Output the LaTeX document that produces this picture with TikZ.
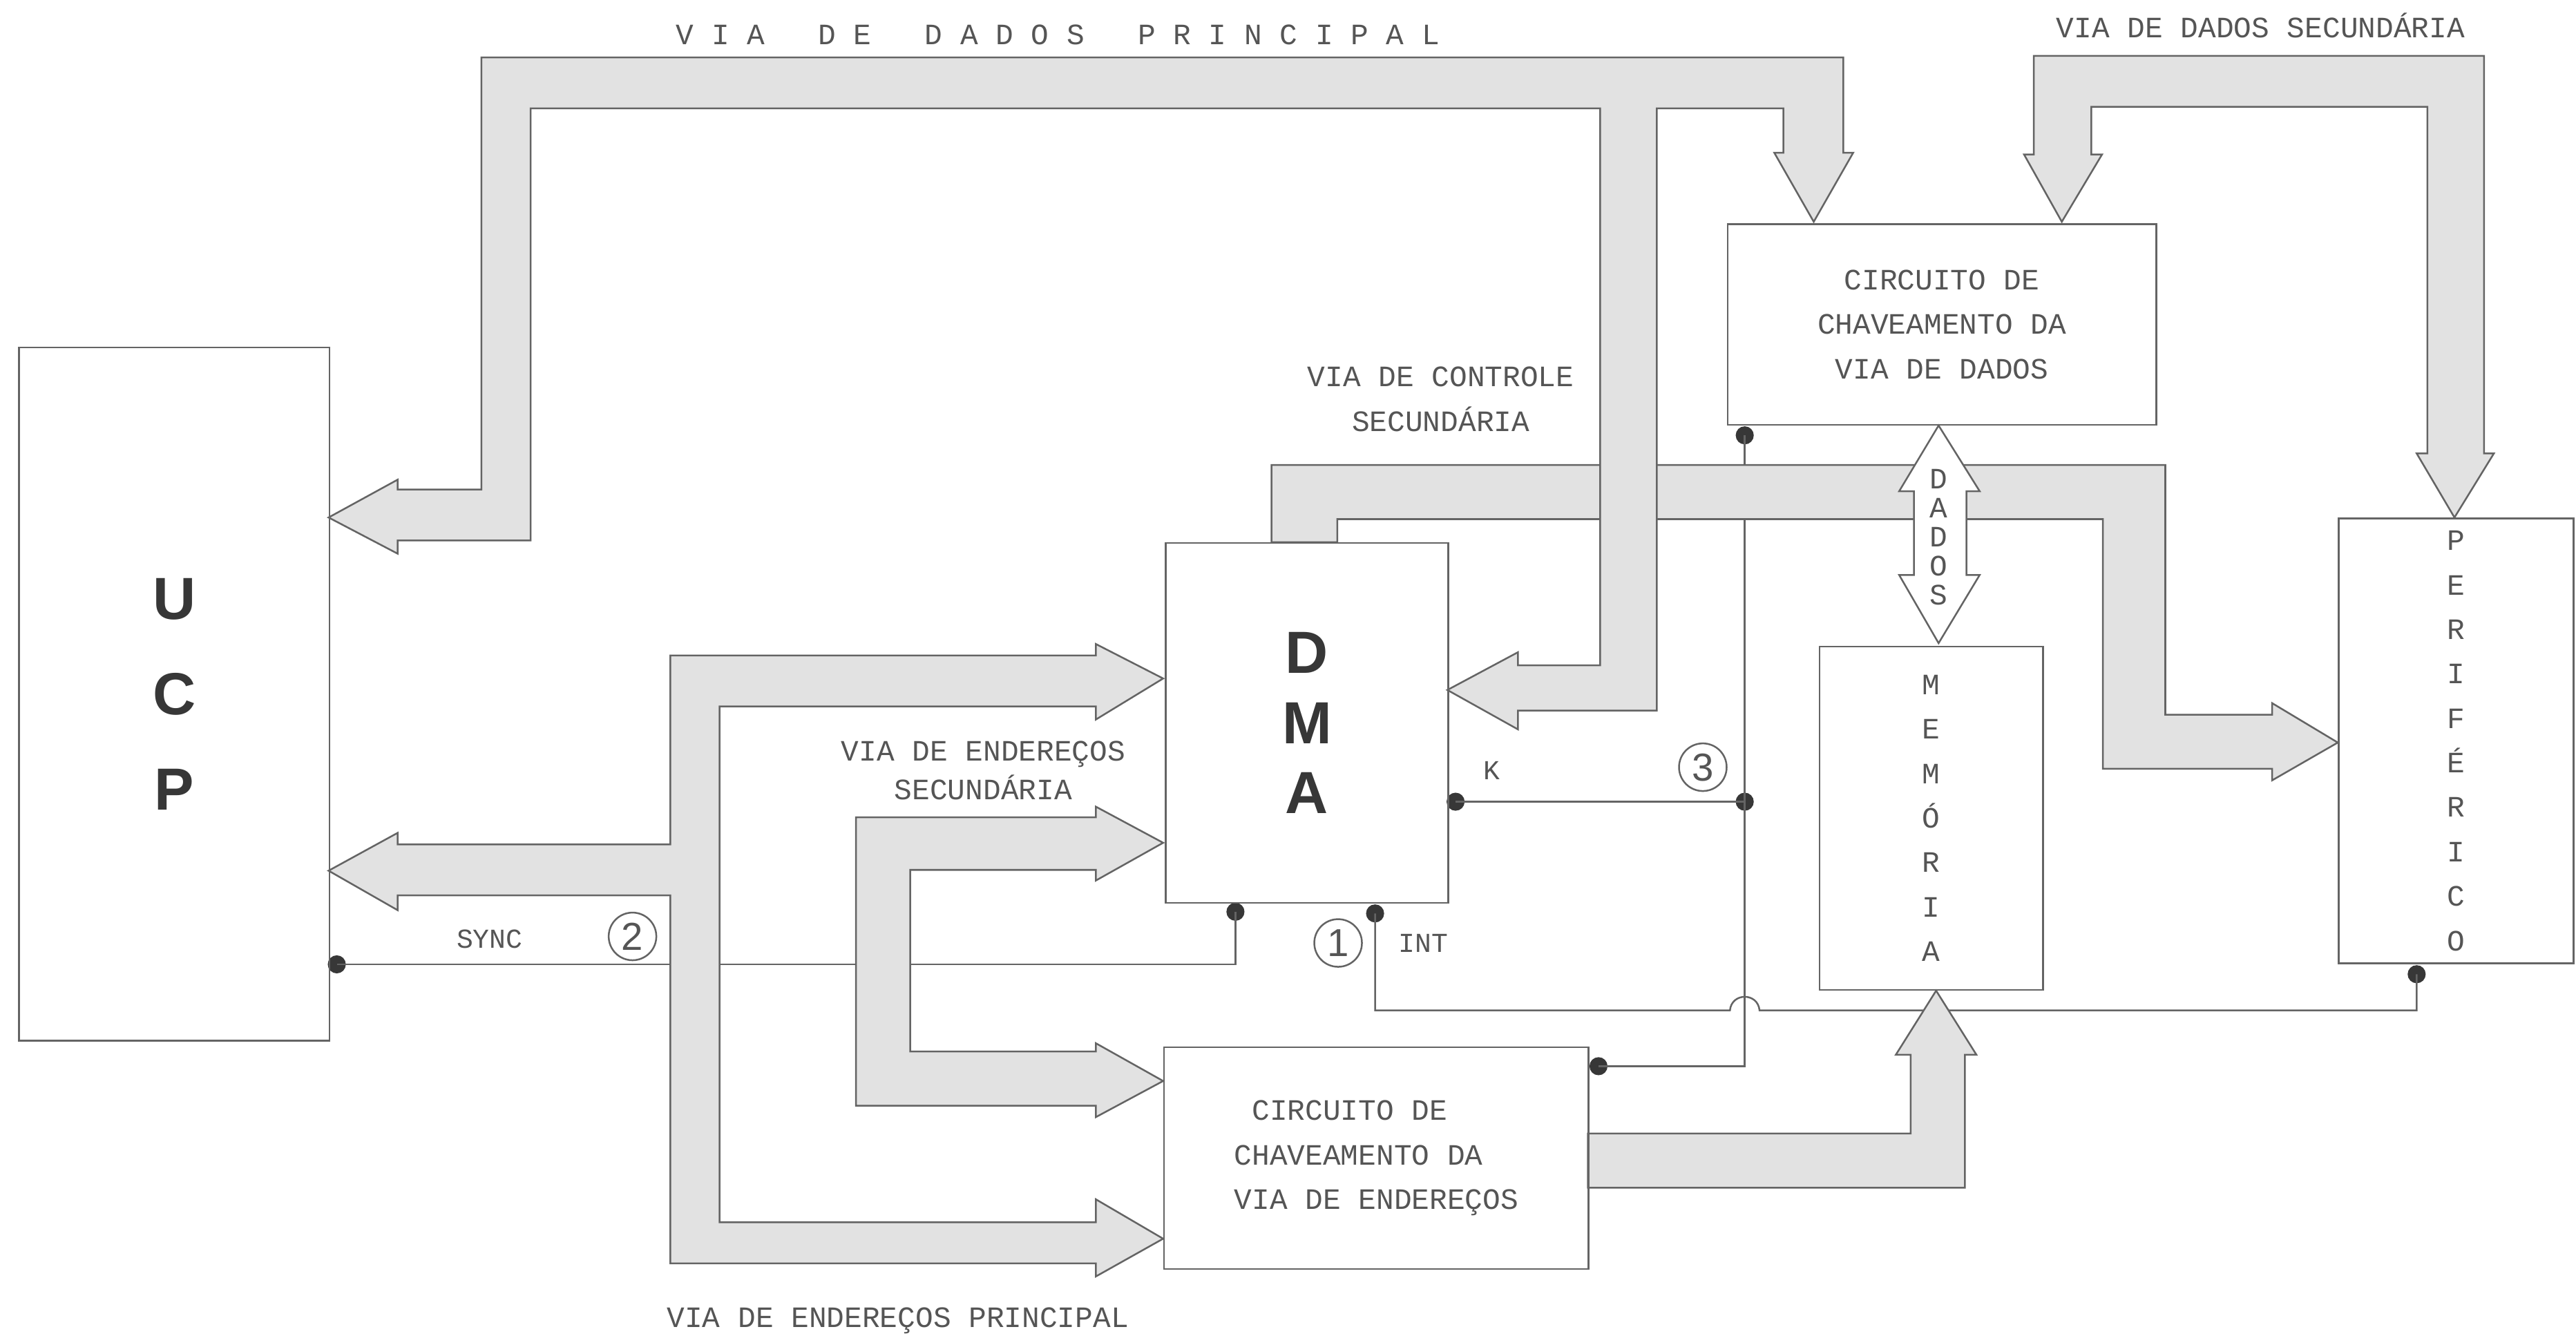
\documentclass[tikz,border=0pt]{standalone}
\usepackage{fontspec}
\setmainfont{Liberation Mono}
\newfontfamily\sansbig{Liberation Sans}
\usepackage{tikz}
\usetikzlibrary{positioning}
\definecolor{mygray}{RGB}{100,100,100}
\definecolor{mybus}{RGB}{226,226,226}
\definecolor{mytext}{RGB}{85,85,85}
\definecolor{mydark}{RGB}{55,55,55}

\begin{document}
\begin{tikzpicture}[x=0.02cm, y=-0.02cm,
  blk/.style={draw=mygray, line width=0.6pt, inner sep=0pt, anchor=north west, align=center, text=mytext, font=\fontsize{10.25}{15.4}\selectfont},
  big/.style={font=\sansbig\bfseries\fontsize{20.6}{#1}\selectfont, text=mydark},
  bus/.style={draw=mygray, line width=0.6pt, fill=mybus, line join=miter},
  sig/.style={draw=mygray, line width=0.6pt},
  jdot/.style={circle, fill=mydark, inner sep=0pt, minimum size=0.22cm},
  lbl/.style={text=mytext, font=\fontsize{10.25}{15.4}\selectfont, inner sep=0pt},
  small/.style={text=mytext, font=\fontsize{9.5}{11}\selectfont, inner sep=0pt, anchor=base},
  num/.style={circle, draw=mygray, line width=0.6pt, minimum size=0.58cm, inner sep=0pt, text=mytext, font=\sansbig\fontsize{13.5}{13.5}\selectfont}]
\path[use as bounding box, fill=white] (0,0) rectangle (1568,813);

% control signals
\node[jdot] (dsync) at (205,587) {};
\node[jdot] (dsdma) at (752,555) {};
\node[jdot] (dint) at (837,556) {};
\node[jdot] (dk) at (886,488) {};
\node[jdot] (d3) at (1062,488) {};
\node[jdot] (dvd) at (1062,265) {};
\node[jdot] (dve) at (973,649) {};
\node[jdot] (dper) at (1471,593) {};
\draw[sig] (dsync.center) -| (dsdma.center);
\draw[sig] (dk.center) -- (d3.center);
\draw[sig] (dvd.center) -- (d3.center) |- (dve.center);
\draw[sig] (dint.center) |- (1053,615) .. controls (1054,604) and (1070,604) .. (1071,615) -| (dper.center);

% via de controle secundaria
\draw[bus] (774,330) -- (774,283) -- (1318,283) -- (1318,435) -- (1383,435) -- (1383,428) -- (1423,452)
  -- (1383,475) -- (1383,468) -- (1280,468) -- (1280,316) -- (814,316) -- (814,330) -- cycle;
% via de dados principal
\draw[bus] (200,315) -- (242,292) -- (242,298) -- (293,298) -- (293,35) -- (1122,35) -- (1122,93)
  -- (1128,93) -- (1104,135) -- (1080,93) -- (1085.5,93) -- (1085.5,66) -- (1008.5,66) -- (1008.5,432.5)
  -- (924,432.5) -- (924,444) -- (881,420) -- (924,397) -- (924,405) -- (974,405) -- (974,66)
  -- (323,66) -- (323,329) -- (242,329) -- (242,337) -- cycle;
% via de dados secundaria
\draw[bus] (1255,135) -- (1232,94) -- (1238,94) -- (1238,34) -- (1512,34) -- (1512,276) -- (1518,276)
  -- (1494,315) -- (1471,276) -- (1477.5,276) -- (1477.5,65) -- (1273,65) -- (1273,94) -- (1279.5,94) -- cycle;
% via de enderecos principal
\draw[bus] (708,413) -- (667,392) -- (667,399) -- (408,399) -- (408,514) -- (242,514) -- (242,507)
  -- (200,530) -- (242,554) -- (242,545) -- (408,545) -- (408,769) -- (667,769) -- (667,777)
  -- (708,754) -- (667,730) -- (667,744) -- (438,744) -- (438,430) -- (667,430) -- (667,438) -- cycle;
% via de enderecos secundaria
\draw[bus] (708,513) -- (667,491) -- (667,497.5) -- (521,497.5) -- (521,673) -- (667,673) -- (667,680)
  -- (708,658) -- (667,635) -- (667,640) -- (554,640) -- (554,529.5) -- (667,529.5) -- (667,536) -- cycle;
\draw[bus] (966.5,690) -- (1163,690) -- (1163,642) -- (1154,642) -- (1178.5,603) -- (1203,642)
  -- (1196,642) -- (1196,723) -- (966.5,723) -- cycle;
\draw[bus, fill=white] (1180,259) -- (1205,299) -- (1197,299) -- (1197,350) -- (1205,350) -- (1180,391.5)
  -- (1156,350) -- (1165,350) -- (1165,299) -- (1156,299) -- cycle;

% blocos
\node[blk, minimum width=3.78cm, minimum height=8.44cm, big=33] (ucp) at (11,211) {U\\C\\P};
\node[blk, minimum width=3.44cm, minimum height=4.38cm, big=24.2] (dma) at (709,330) {D\\M\\A};
\node[blk, minimum width=5.22cm, minimum height=2.44cm] (ccvd) at (1051,136) {CIRCUITO DE\\CHAVEAMENTO DA\\VIA DE DADOS};
\node[blk, minimum width=2.72cm, minimum height=4.18cm] (mem) at (1107,393) {M\\E\\M\\Ó\\R\\I\\A};
\node[blk, minimum width=2.86cm, minimum height=5.42cm] (per) at (1423,315) {P\\E\\R\\I\\F\\É\\R\\I\\C\\O};
\node[blk, minimum width=5.17cm, minimum height=2.70cm, align=left] (ccve) at (708,637) {\phantom{C}CIRCUITO DE\\CHAVEAMENTO DA\\VIA DE ENDEREÇOS};

% legendas
\node[lbl, anchor=base] (tdp) at (644,27) {V I A~~~D E~~~D A D O S~~~P R I N C I P A L};
\node[lbl, anchor=base] (tds) at (1376,23) {VIA DE DADOS SECUNDÁRIA};
\node[lbl, align=center] (tcs) at (877,243) {VIA DE CONTROLE\\SECUNDÁRIA};
\node[lbl, align=center, font=\fontsize{10.25}{13.4}\selectfont] (tes) at (598.5,469) {VIA DE ENDEREÇOS\\SECUNDÁRIA};
\node[lbl, anchor=base] (tep) at (546.5,808) {VIA DE ENDEREÇOS PRINCIPAL};
\node[lbl, align=center, font=\fontsize{10.25}{10.1}\selectfont] (tdados) at (1180,327) {D\\A\\D\\O\\S};
\node[small] (tsync) at (298,577) {SYNC};
\node[small] (tk) at (908,474.5) {K};
\node[small] (tint) at (866.5,579.5) {INT};
\node[num] (n1) at (814.5,574) {1};
\node[num] (n2) at (385,570) {2};
\node[num] (n3) at (1036.5,467) {3};
\end{tikzpicture}
\end{document}
